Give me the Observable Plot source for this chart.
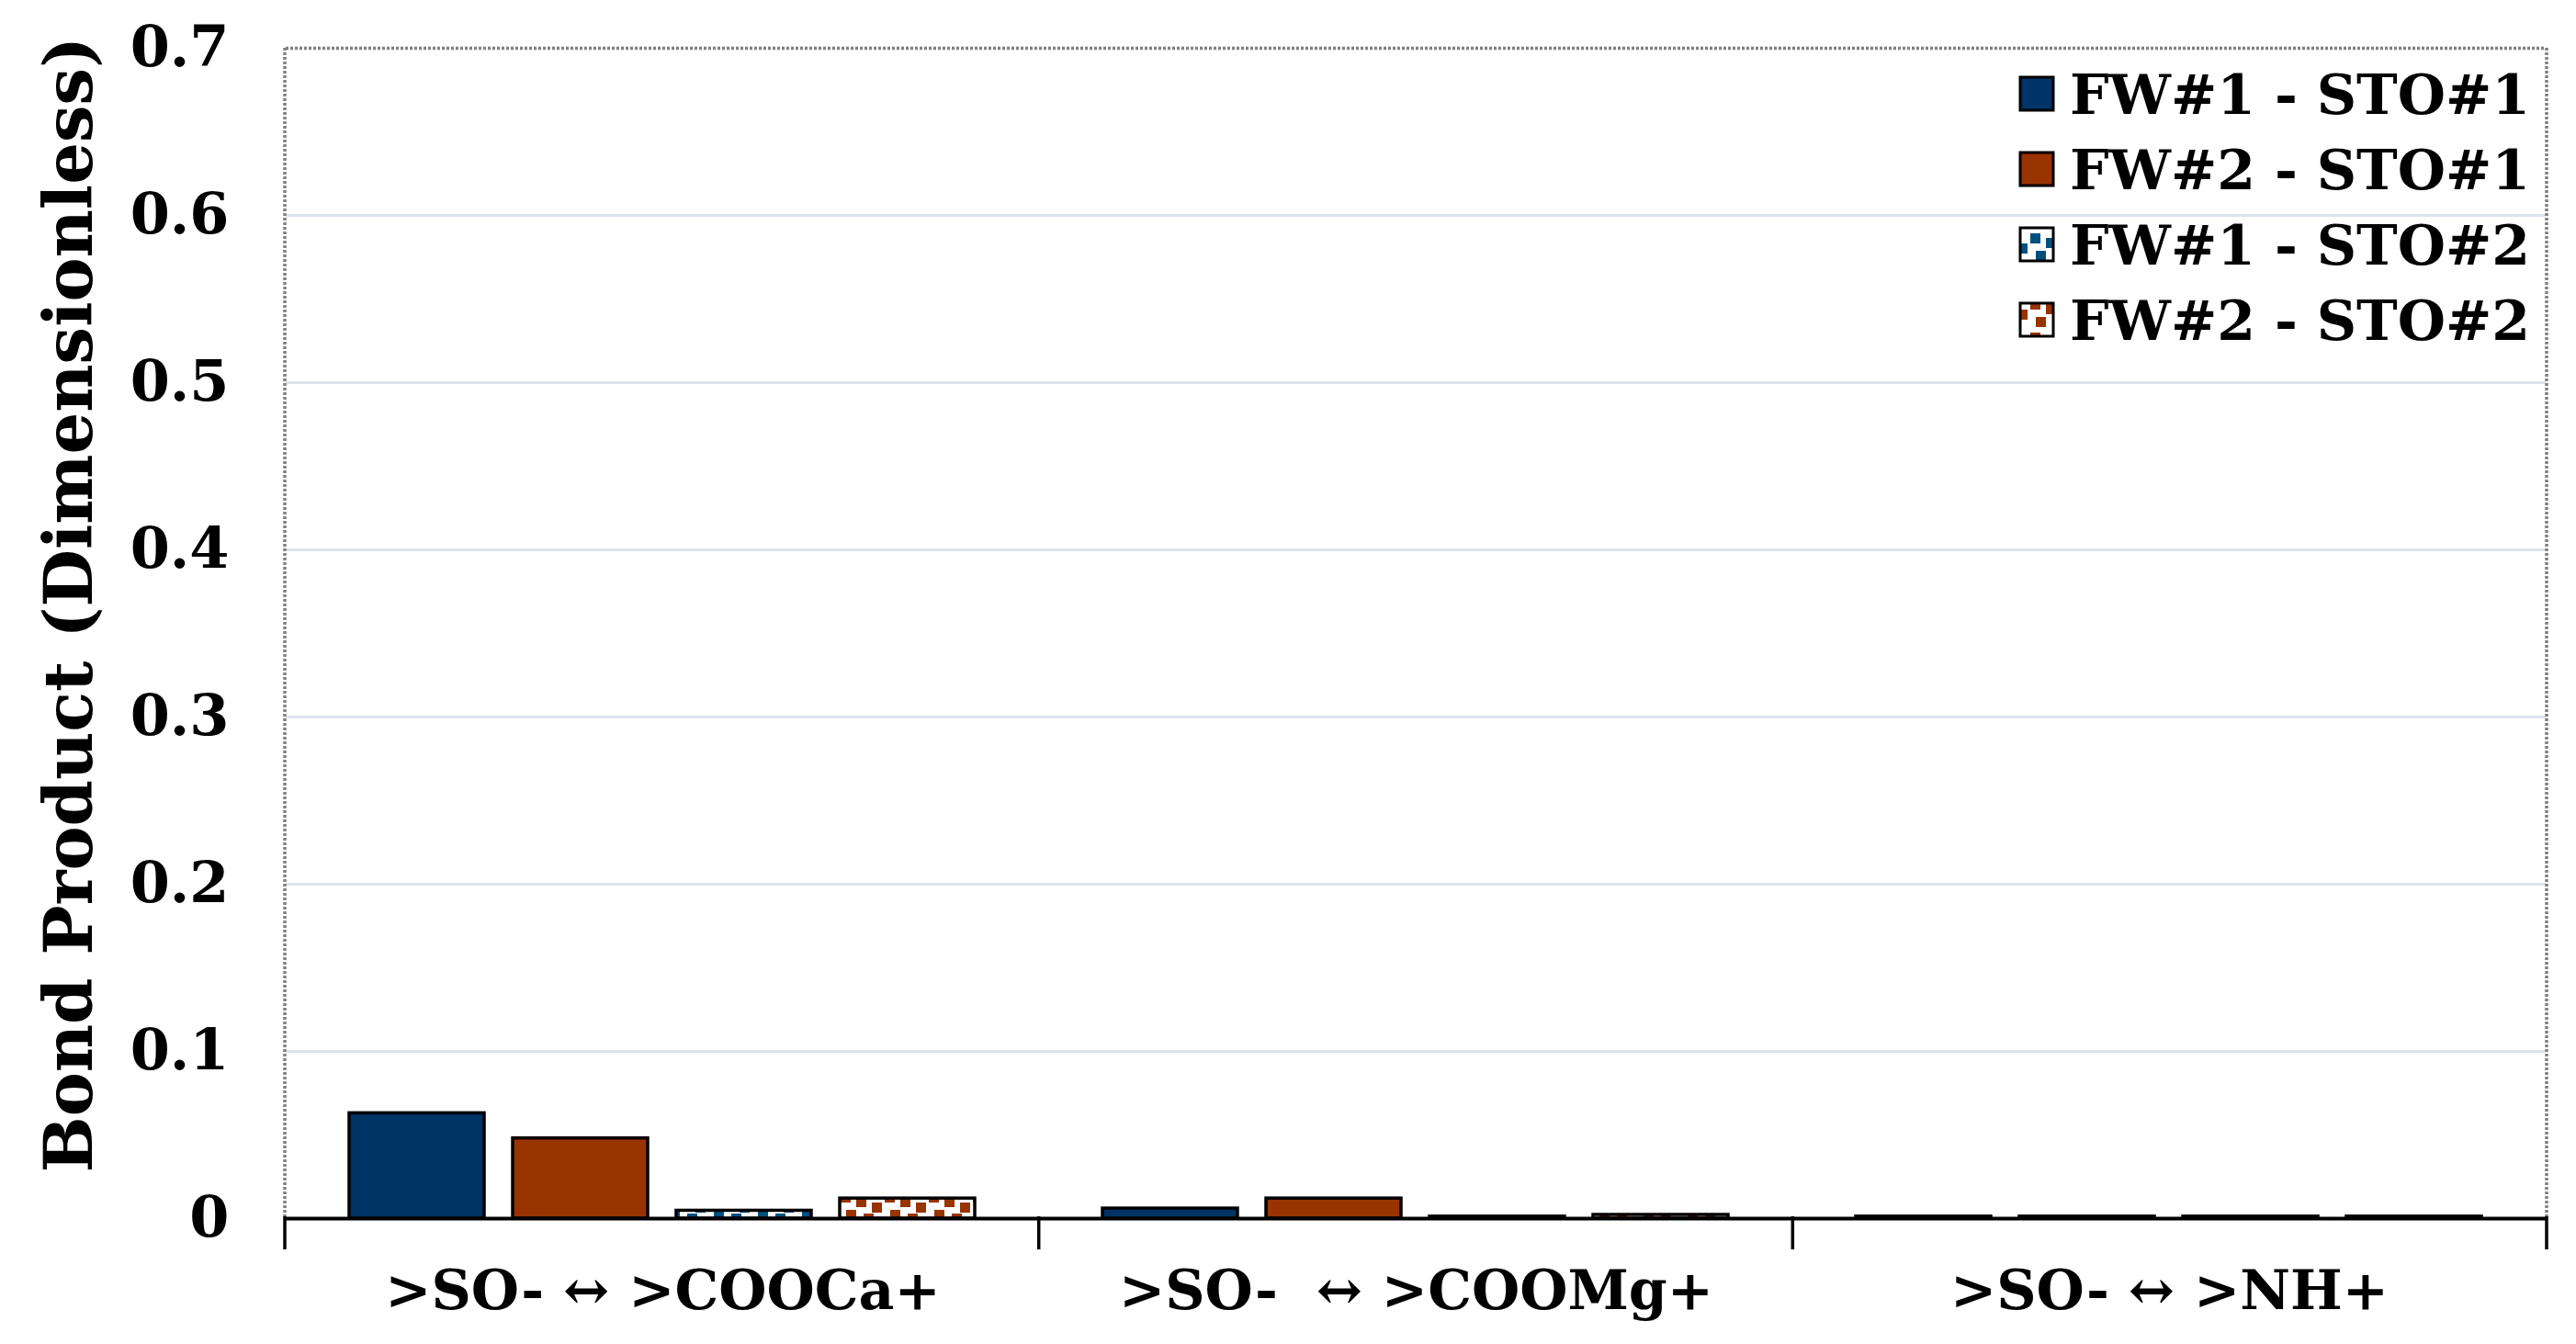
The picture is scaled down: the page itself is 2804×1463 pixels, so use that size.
<!DOCTYPE html>
<html>
<head>
<meta charset="utf-8">
<script src="https://cdn.jsdelivr.net/npm/d3@7"></script>
<script src="https://cdn.jsdelivr.net/npm/@observablehq/plot@0.6"></script>
<style>
  html, body { margin: 0; padding: 0; background: white; }
  #chart { width: 2804px; height: 1463px; }
</style>
</head>
<body>
<div id="chart"></div>
<script>
// ---- data ----
const categories = [">SO- \u2194 >COOCa+", ">SO-\u00a0 \u2194 >COOMg+", ">SO- \u2194 >NH+"];
const series = ["FW#1 - STO#1", "FW#2 - STO#1", "FW#1 - STO#2", "FW#2 - STO#2"];
const fw1sto1 = [0.063, 0.006, 0.0012];
const fw2sto1 = [0.048, 0.012, 0.0012];
const fw1sto2 = [0.0047, 0.0012, 0.0012];
const fw2sto2 = [0.012, 0.0022, 0.0012];
const yTicks = [0, 0.1, 0.2, 0.3, 0.4, 0.5, 0.6, 0.7];
const yTitle = "Bond Product (Dimensionless)";

const seriesValues = [fw1sto1, fw2sto1, fw1sto2, fw2sto2];
const fills = ["#003366", "#993300", "url(#confettiBlue)", "url(#confettiBrown)"];

const rows = [];
categories.forEach((c, i) => {
  series.forEach((s, j) => rows.push({cat: c, series: s, value: seriesValues[j][i]}));
});

const W = 2804, H = 1463;
const chart = Plot.plot({
  width: W,
  height: H,
  marginLeft: 310,
  marginRight: 32,
  marginTop: 52,
  marginBottom: 137,
  style: {fontFamily: "'DejaVu Serif', serif", fontWeight: "bold", background: "white", color: "black"},
  fx: {domain: categories, padding: 0, label: null},
  x: {domain: series, paddingInner: 0.174, paddingOuter: 0.39, axis: null},
  y: {domain: [0, 0.7], label: null},
  color: {domain: series, range: fills},
  marks: [
    Plot.ruleY(yTicks.filter(d => d > 0 && d < 0.7), {stroke: "#dde4ec", strokeWidth: 3}),
    Plot.ruleY([0.7], {stroke: "#808080", strokeWidth: 3.5, strokeDasharray: "3,2"}),
    Plot.barY(rows, {fx: "cat", x: "series", y: "value", fill: "series", stroke: "black", strokeWidth: 3.5}),
    Plot.ruleY([0], {stroke: "black", strokeWidth: 4}),
    Plot.axisY({ticks: yTicks, tickSize: 0, tickPadding: 62, fontSize: 62, fontWeight: "bold", label: null, tickFormat: d => String(d)}),
    Plot.axisFx({anchor: "bottom", tickSize: 0, tickPadding: 56, fontSize: 60, fontWeight: "bold", label: null})
  ]
});
document.getElementById("chart").appendChild(chart);

const svg = d3.select(chart);

// patterns (large confetti)
const defs = svg.insert("defs", ":first-child");
function confetti(id, color) {
  const p = defs.append("pattern").attr("id", id).attr("patternUnits", "userSpaceOnUse")
    .attr("width", 48).attr("height", 36);
  p.append("rect").attr("width", 48).attr("height", 36).attr("fill", "white");
  [[2, 2], [19, 7], [36, 13], [8, 21], [27, 25]].forEach(([x, y]) =>
    p.append("rect").attr("x", x).attr("y", y).attr("width", 11).attr("height", 11).attr("fill", color));
}
confetti("confettiBlue", "#00507f");
confetti("confettiBrown", "#993300");

// frame sides and group boundary ticks from the fx scale
const fxs = chart.scale("fx");
const band = d3.scaleBand(fxs.domain, fxs.range)
  .paddingInner(fxs.paddingInner ?? 0).paddingOuter(fxs.paddingOuter ?? 0).align(fxs.align ?? 0.5);
const ys = chart.scale("y");
const yBottom = ys.range[0], yTop = ys.range[1];
const edges = Array.from(new Set(categories.flatMap(c => [band(c), band(c) + band.bandwidth()]).map(v => Math.round(v * 10) / 10)));
const xMin = d3.min(edges), xMax = d3.max(edges);
const extra = svg.append("g");
[xMin, xMax].forEach(x => extra.append("line").attr("x1", x).attr("x2", x).attr("y1", yTop).attr("y2", yBottom)
  .attr("stroke", "#808080").attr("stroke-width", 3.5).attr("stroke-dasharray", "3,2"));
edges.forEach(x => extra.append("line").attr("x1", x).attr("x2", x).attr("y1", yBottom - 2).attr("y2", yBottom + 34)
  .attr("stroke", "black").attr("stroke-width", 3.5));

// y-axis title
svg.append("text")
  .attr("transform", `translate(100, ${(yTop + yBottom) / 2 - 31}) rotate(-90)`)
  .attr("text-anchor", "middle")
  .attr("font-size", 72).attr("font-weight", "bold").attr("font-family", "'DejaVu Serif', serif")
  .attr("fill", "black")
  .text(yTitle);

// legend
const lg = svg.append("g").attr("font-family", "'DejaVu Serif', serif").attr("font-weight", "bold")
  .attr("font-size", 60).attr("text-anchor", "start");
series.forEach((s, i) => {
  const cy = 102 + i * 82;
  lg.append("rect").attr("x", 2199).attr("y", cy - 18).attr("width", 36).attr("height", 36)
    .attr("fill", fills[i]).attr("stroke", "black").attr("stroke-width", 3);
  lg.append("text").attr("x", 2253).attr("y", cy).attr("dy", "0.36em").attr("text-anchor", "start")
    .attr("fill", "black").text(s);
});
</script>
</body>
</html>
